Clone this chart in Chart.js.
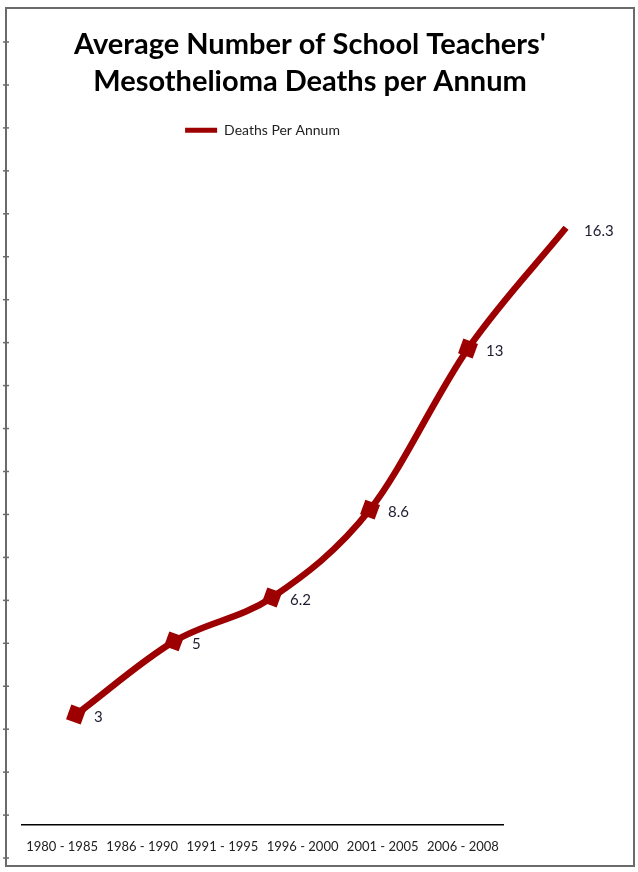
<!DOCTYPE html>
<html>
<head>
<meta charset="utf-8">
<title>School Teachers' Mesothelioma Deaths</title>
<script src="https://cdn.jsdelivr.net/npm/chart.js@4.4.0/dist/chart.umd.min.js"></script>
<style>
  html, body { margin: 0; padding: 0; background: #fff; }
  #wrap { position: relative; width: 638px; height: 872px; }
</style>
</head>
<body>
<div id="wrap"><canvas id="deathsChart"></canvas></div>
<script>
// Data
const periods = ['1980 - 1985', '1986 - 1990', '1991 - 1995', '1996 - 2000', '2001 - 2005', '2006 - 2008'];
const deaths = [3, 5, 6.2, 8.6, 13, 16.3];
const seriesLabel = 'Deaths Per Annum';
const titleLines = ["Average Number of School Teachers'", 'Mesothelioma Deaths per Annum'];

const lineRed = '#9c0000';
const font = 'Lato';

// Outer frame with the little ruler ticks on the left edge
const framePlugin = {
    id: 'frame',
    beforeDraw(chart) {
        const ctx = chart.ctx;
        ctx.save();
        ctx.fillStyle = '#fff';
        ctx.fillRect(0, 0, chart.width, chart.height);
        ctx.strokeStyle = '#6b6b6b';
        ctx.lineWidth = 2;
        ctx.strokeRect(6, 8, 628, 858);
        ctx.lineWidth = 1.5;
        for (let y = 42; y < 862; y += 42.95) {
            ctx.beginPath();
            ctx.moveTo(3, y);
            ctx.lineTo(9, y);
            ctx.stroke();
        }
        ctx.restore();
    },
    // centre the legend over the plot area rather than the whole canvas
    afterLayout(chart) {
        if (chart.legend) {
            chart.legend.left = chart.chartArea.left;
            chart.legend.right = chart.chartArea.right;
        }
    }
};

// Value labels to the right of each marker
const valueLabels = {
    id: 'valueLabels',
    afterDatasetsDraw(chart) {
        const ctx = chart.ctx;
        const meta = chart.getDatasetMeta(0);
        ctx.save();
        ctx.font = '15px ' + font;
        ctx.fillStyle = '#1c1c30';
        ctx.textAlign = 'left';
        ctx.textBaseline = 'middle';
        meta.data.forEach((pt, i) => ctx.fillText(String(deaths[i]), pt.x + 18, pt.y + 3));
        ctx.restore();
    }
};

const ctx = document.getElementById('deathsChart').getContext('2d');
new Chart(ctx, {
    type: 'line',
    data: {
        labels: periods,
        datasets: [{
            label: seriesLabel,
            data: deaths.map((v, i) => ({ x: i, y: v })),
            xAxisID: 'x2',
            yAxisID: 'y',
            borderColor: lineRed,
            backgroundColor: lineRed,
            borderWidth: 6.5,
            tension: 0.4,
            cubicInterpolationMode: 'monotone',
            pointStyle: 'rect',
            pointRotation: 20,
            pointRadius: 11,
            pointBackgroundColor: lineRed,
            pointBorderWidth: 0,
            clip: false
        }]
    },
    options: {
        responsive: true,
        maintainAspectRatio: false,
        animation: false,
        layout: { autoPadding: false, padding: { left: 22, right: 40, top: 26, bottom: 2 } },
        plugins: {
            title: {
                display: true,
                text: titleLines,
                color: '#000',
                font: { family: font, size: 29, weight: 'bold', lineHeight: 1.28 },
                padding: { top: 0, bottom: 13 }
            },
            legend: {
                position: 'top',
                align: 'center',
                labels: {
                    boxWidth: 32,
                    boxHeight: 5,
                    padding: 10,
                    color: '#222',
                    font: { family: font, size: 14 },
                    generateLabels: () => [{
                        text: seriesLabel, fillStyle: lineRed, strokeStyle: lineRed,
                        lineWidth: 0, fontColor: '#222', datasetIndex: 0
                    }]
                }
            },
            tooltip: { enabled: false }
        },
        scales: {
            x: {
                type: 'category',
                position: 'bottom',
                offset: true,
                grid: { display: false, drawTicks: false },
                border: { display: true, color: '#000', width: 1.5 },
                ticks: { color: '#222', font: { family: font, size: 13 }, padding: 15, maxRotation: 0, autoSkip: false }
            },
            x2: { type: 'linear', position: 'bottom', display: false, min: -0.551, max: 4.357 },
            y: { type: 'linear', position: 'left', display: false, min: 0, max: 18.5 },
            y2: {
                type: 'linear',
                position: 'right',
                grid: { display: false },
                border: { display: false },
                ticks: { display: false },
                afterFit(s) { s.width = 95; }
            }
        }
    },
    plugins: [framePlugin, valueLabels]
});
</script>
</body>
</html>
